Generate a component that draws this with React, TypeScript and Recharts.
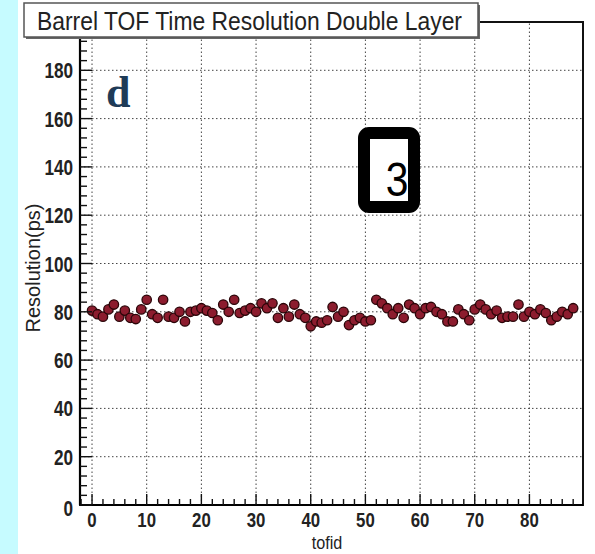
import React from 'react';
import { ScatterChart, Scatter, XAxis, YAxis, ReferenceLine, ReferenceArea, Label } from 'recharts';

const tofid = [
  0, 1, 2, 3, 4, 5, 6, 7, 8, 9, 10, 11, 12, 13, 14, 15, 16, 17, 18, 19,
  20, 21, 22, 23, 24, 25, 26, 27, 28, 29, 30, 31, 32, 33, 34, 35, 36, 37, 38, 39,
  40, 41, 42, 43, 44, 45, 46, 47, 48, 49, 50, 51, 52, 53, 54, 55, 56, 57, 58, 59,
  60, 61, 62, 63, 64, 65, 66, 67, 68, 69, 70, 71, 72, 73, 74, 75, 76, 77, 78, 79,
  80, 81, 82, 83, 84, 85, 86, 87, 88,
];

const resolution = [
  80.5, 79, 78, 81, 83, 78, 80.5, 77.5, 77, 81, 85, 79, 77.5, 85, 78, 77.5, 80, 76, 80, 80.5,
  81.5, 80.5, 79.5, 76.5, 83, 80, 85, 79.5, 80.5, 81.5, 80, 83.5, 81.5, 83.5, 77.5, 81.5, 78, 83, 79, 77.5,
  74, 76, 75.5, 76.5, 82, 78, 80, 74.5, 76.5, 77.5, 76, 76.5, 85, 83.5, 81.5, 79, 81.5, 77.5, 83, 81.5,
  79, 81.5, 82, 80, 79, 76, 76, 81, 79, 76.5, 81, 83, 81, 79, 80.5, 77.5, 78, 78, 83, 78,
  80, 79, 81, 79.5, 76.5, 78, 80, 79, 81.5,
];

const xMajorTicks = [0, 10, 20, 30, 40, 50, 60, 70, 80];
const xMinorTicks = [-2, 2, 4, 6, 8, 12, 14, 16, 18, 22, 24, 26, 28, 32, 34, 36, 38, 42, 44, 46, 48, 52, 54, 56, 58, 62, 64, 66, 68, 72, 74, 76, 78, 82, 84, 86, 88];
const yMajorTicks = [0, 20, 40, 60, 80, 100, 120, 140, 160, 180];
const yMinorTicks = [4, 8, 12, 16, 24, 28, 32, 36, 44, 48, 52, 56, 64, 68, 72, 76, 84, 88, 92, 96, 104, 108, 112, 116, 124, 128, 132, 136, 144, 148, 152, 156, 164, 168, 172, 176, 184, 188, 192, 196];
const xGridValues = [0, 10, 20, 30, 40, 50, 60, 70, 80];
const yGridValues = [20, 40, 60, 80, 100, 120, 140, 160, 180];
const xDomain = [-2.2, 89.8];
const yDomain = [0, 200];

const title = 'Barrel TOF Time Resolution Double Layer';
const xLabel = 'tofid';
const yLabel = 'Resolution(ps)';
const panelLetter = 'd';
const boxNumber = '3';

const data = tofid.map((t, i) => ({ tofid: t, res: resolution[i] }));

const FONT = '"Liberation Sans", Arial, Helvetica, sans-serif';

const XTick = (props: any) => {
  const { x, y, payload } = props;
  const v = payload.value;
  const major = xMajorTicks.includes(v);
  return (
    <g>
      <line x1={x} x2={x} y1={y} y2={y - (major ? 11 : 6)} stroke="#111" strokeWidth={1.4} />
      {major && (
        <text
          transform={`translate(${x},${y + 22}) scale(0.8,1)`}
          textAnchor="middle"
          fontFamily={FONT}
          fontWeight="bold"
          fontSize={21}
          fill="#222"
        >
          {v}
        </text>
      )}
    </g>
  );
};

const YTick = (props: any) => {
  const { x, y, payload } = props;
  const v = payload.value;
  const major = yMajorTicks.includes(v);
  const dy = v === 0 ? 11 : 8;
  return (
    <g>
      <line x1={x} x2={x + (major ? 12 : 7)} y1={y} y2={y} stroke="#111" strokeWidth={1.4} />
      {major && (
        <text
          transform={`translate(${x - 7},${y + dy}) scale(0.78,1)`}
          textAnchor="end"
          fontFamily={FONT}
          fontWeight="bold"
          fontSize={22}
          fill="#222"
        >
          {v}
        </text>
      )}
    </g>
  );
};

const Marker = (props: any) => {
  const { cx, cy } = props;
  return <circle cx={cx} cy={cy} r={4.7} fill="#8c1c2e" stroke="#2a0508" strokeWidth={1.3} />;
};

export default function App() {
  const xTicks = [...xMajorTicks, ...xMinorTicks].sort((a, b) => a - b);
  const yTicks = [...yMajorTicks, ...yMinorTicks].sort((a, b) => a - b);
  return (
    <div style={{ position: 'absolute', left: 0, top: 0, width: 595, height: 554, background: '#fff', overflow: 'hidden' }}>
      <div style={{ position: 'absolute', left: 0, top: 0, width: 18, height: 554, background: '#c6fbff' }} />
      <div style={{ position: 'absolute', left: 0, top: 0 }}>
        <ScatterChart width={595} height={554} margin={{ top: 22, right: 12, bottom: 0, left: 0 }}>
          <XAxis
            type="number"
            dataKey="tofid"
            domain={xDomain}
            ticks={xTicks}
            interval={0}
            allowDataOverflow
            height={49}
            tickSize={0}
            tickMargin={0}
            tickLine={false}
            tick={<XTick />}
            axisLine={{ stroke: '#000', strokeWidth: 2.2 }}
          >
            <Label
              content={() => (
                <text
                  transform="translate(327,549) scale(0.85,1)"
                  textAnchor="middle"
                  fontFamily={FONT}
                  fontSize={19}
                  fill="#222"
                >
                  {xLabel}
                </text>
              )}
            />
          </XAxis>
          <YAxis
            type="number"
            dataKey="res"
            domain={yDomain}
            ticks={yTicks}
            interval={0}
            allowDataOverflow
            width={80}
            tickSize={0}
            tickMargin={0}
            tickLine={false}
            tick={<YTick />}
            axisLine={{ stroke: '#000', strokeWidth: 2.2 }}
          >
            <Label
              content={() => (
                <text
                  transform="translate(40,268) rotate(-90)"
                  textAnchor="middle"
                  fontFamily={FONT}
                  fontSize={20}
                  fill="#222"
                >
                  {yLabel}
                </text>
              )}
            />
          </YAxis>
          {xGridValues.map((v) => (
            <ReferenceLine key={'gx' + v} x={v} stroke="#444" strokeWidth={1} strokeDasharray="1.5 2.5" />
          ))}
          {yGridValues.map((v) => (
            <ReferenceLine key={'gy' + v} y={v} stroke="#444" strokeWidth={1} strokeDasharray="1.5 2.5" />
          ))}
          <ReferenceArea
            x1={xDomain[0]}
            x2={xDomain[1]}
            y1={yDomain[0]}
            y2={yDomain[1]}
            fill="none"
            fillOpacity={0}
            stroke="#111"
            strokeWidth={2}
          />
          <Scatter data={data} shape={<Marker />} isAnimationActive={false} />
        </ScatterChart>
      </div>
      <svg width={595} height={554} style={{ position: 'absolute', left: 0, top: 0, pointerEvents: 'none' }}>
        <rect x={26} y={5} width={454} height={34} fill="#666" />
        <rect x={24} y={3} width={454} height={34} fill="#fff" stroke="#555" strokeWidth={1.5} />
        <text
          x={37}
          y={30}
          fontFamily={FONT}
          fontSize={25}
          fill="#222"
          textLength={425}
          lengthAdjust="spacingAndGlyphs"
        >
          {title}
        </text>
        <text x={106} y={107} fontFamily='"Liberation Serif", "DejaVu Serif", serif' fontWeight="bold" fontSize={44} fill="#1e3b57">
          {panelLetter}
        </text>
        <rect x={364} y={133} width={50} height={74} rx={5} fill="#fff" stroke="#000" strokeWidth={12} />
        <text
          transform="translate(397,196) scale(0.85,1)"
          textAnchor="middle"
          fontFamily={FONT}
          fontSize={48}
          fill="#000"
        >
          {boxNumber}
        </text>
      </svg>
    </div>
  );
}
